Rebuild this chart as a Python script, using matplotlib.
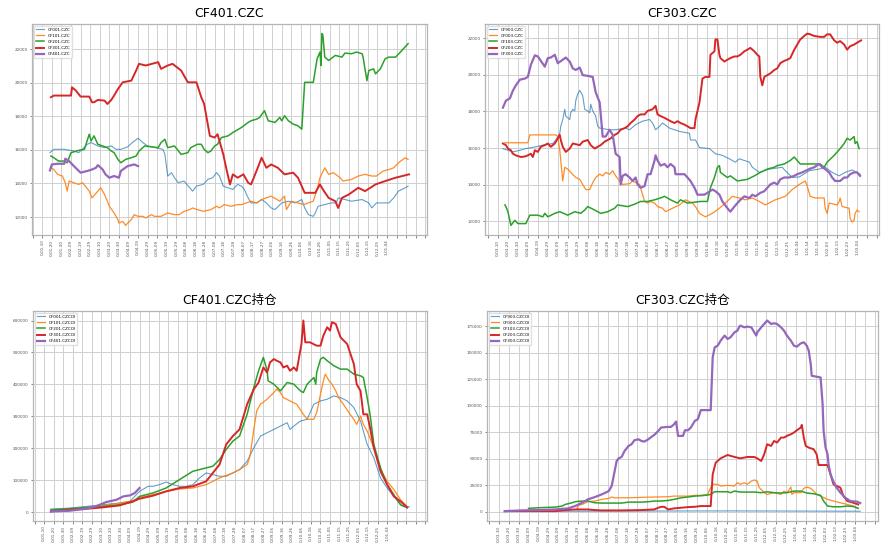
import matplotlib
matplotlib.use('Agg')
import matplotlib.pyplot as plt
import numpy as np
import pandas as pd

plt.rcParams['font.family'] = ['DejaVu Sans', 'Noto Sans CJK SC']

# x values are days after the first labelled date of each panel
left_labels = [f'{d.year - 2000}-{d:%m-%d}' for d in pd.date_range('2000-01-10', periods=37, freq='10D')]
right_labels = [f'{d.year - 2003}-{d:%m-%d}' for d in pd.date_range('2003-03-10', periods=37, freq='10D')]

left_px_names = ['CF001.CZC', 'CF101.CZC', 'CF201.CZC', 'CF301.CZC', 'CF401.CZC']
right_px_names = ['CF903.CZC', 'CF003.CZC', 'CF103.CZC', 'CF203.CZC', 'CF303.CZC']
left_oi_names = [n + 'OI' for n in left_px_names]
right_oi_names = [n + 'OI' for n in right_px_names]

# ---- CF401 price panel ----
cf001_px = [(8, 15830), (12, 16030), (23, 16030), (33, 15930), (38, 15830), (47, 16330), (51, 16430),
            (58, 16230), (65, 16130), (72, 16230), (77, 16030), (82, 16030), (89, 16170), (94, 16430),
            (100, 16690), (105, 16430), (110, 16230), (115, 16170), (126, 16030), (128, 15730),
            (131, 14440), (135, 14640), (138, 14340), (142, 14040), (148, 14140), (154, 13740),
            (157, 13540), (161, 13840), (168, 13940), (173, 14240), (178, 14340), (182, 14640),
            (185, 14440), (189, 13840), (194, 13740), (199, 13640), (204, 13940), (208, 13840),
            (211, 13640), (215, 13140), (218, 12840), (224, 12840), (229, 13040), (234, 12840),
            (239, 12540), (243, 12440), (250, 12840), (257, 12940), (264, 12840), (271, 13040),
            (274, 12540), (278, 12140), (283, 12040), (285, 12240), (288, 12640), (295, 12740),
            (302, 12840), (307, 12840), (309, 13140), (316, 13040), (323, 12940), (334, 13040),
            (341, 12840), (344, 12540), (349, 12840), (362, 12840), (367, 13140), (372, 13540),
            (379, 13740), (382, 13840)]
cf101_px = [(9, 14930), (12, 14830), (16, 14540), (21, 14440), (24, 14040), (26, 13540), (28, 14140),
            (33, 14040), (38, 13940), (42, 14040), (45, 13840), (49, 13540), (52, 13140), (58, 13540),
            (61, 13740), (65, 13340), (68, 12940), (70, 12640), (75, 12240), (79, 11840), (80, 11640),
            (84, 11740), (87, 11500), (91, 11740), (93, 11840), (96, 12140), (100, 12040), (105, 12040),
            (108, 11940), (114, 12140), (117, 12040), (124, 12040), (131, 12240), (138, 12140),
            (143, 12140), (148, 12340), (154, 12440), (157, 12540), (162, 12440), (168, 12340),
            (176, 12440), (182, 12640), (185, 12540), (190, 12740), (197, 12640), (204, 12740),
            (208, 12740), (218, 12940), (224, 12840), (229, 13040), (234, 13140), (239, 13240),
            (245, 13040), (248, 12940), (253, 13240), (255, 12440), (260, 12940), (267, 12840),
            (273, 12740), (278, 12840), (283, 12940), (287, 13640), (290, 14340), (295, 14930),
            (299, 14540), (304, 14640), (311, 14340), (314, 14140), (323, 14240), (330, 14440),
            (337, 14540), (344, 14440), (349, 14440), (356, 14740), (362, 14830), (367, 14930),
            (372, 15230), (379, 15530), (382, 15430)]
cf201_px = [(9, 15630), (12, 15530), (17, 15330), (23, 15330), (26, 15230), (30, 15830), (38, 15970),
            (44, 16030), (49, 16930), (51, 16530), (54, 16830), (58, 16330), (63, 16230), (68, 16130),
            (72, 15930), (75, 15830), (79, 15430), (82, 15230), (87, 15430), (93, 15530), (98, 15630),
            (101, 15930), (107, 16230), (115, 16170), (121, 16130), (124, 16430), (128, 16630),
            (131, 16130), (138, 16230), (145, 15730), (152, 15830), (155, 16130), (162, 16330),
            (166, 16330), (169, 16030), (173, 15830), (176, 15930), (180, 16230), (183, 16330),
            (187, 16730), (194, 16830), (199, 17030), (208, 17330), (215, 17630), (218, 17730),
            (224, 17830), (227, 17930), (232, 18330), (236, 17730), (243, 17630), (248, 17930),
            (250, 17730), (253, 18030), (257, 17730), (262, 17530), (267, 17430), (271, 17230),
            (274, 20020), (283, 20020), (287, 21420), (290, 21820), (291, 21020), (292, 22920),
            (293, 22820), (295, 21520), (299, 21320), (306, 21620), (313, 21520), (316, 21760),
            (323, 21720), (328, 21820), (334, 21720), (335, 21520), (337, 20820), (339, 20120),
            (341, 20720), (346, 20820), (348, 20520), (353, 20820), (358, 21420), (362, 21520),
            (369, 21520), (374, 21820), (382, 22320)]
cf301_px = [(9, 19130), (12, 19230), (30, 19230), (31, 19720), (35, 19530), (40, 19170), (49, 19170),
            (52, 18830), (54, 18830), (58, 18970), (65, 18930), (68, 18730), (72, 18970), (75, 19230),
            (79, 19620), (84, 20020), (93, 20120), (98, 20720), (101, 21120), (108, 21020), (121, 21220),
            (124, 20820), (131, 21020), (136, 21120), (145, 20720), (148, 20420), (152, 20020),
            (161, 20020), (166, 19130), (169, 18730), (175, 16830), (180, 16730), (183, 16930),
            (189, 15730), (192, 14930), (196, 13940), (199, 14540), (204, 14340), (210, 14540),
            (215, 14040), (218, 13940), (225, 14930), (229, 15530), (234, 14930), (239, 15130),
            (246, 14930), (253, 14540), (262, 14640), (267, 14340), (274, 13440), (285, 13440),
            (290, 13940), (293, 13640), (299, 13140), (306, 12940), (309, 12540), (313, 13140),
            (320, 13340), (330, 13740), (337, 13540), (348, 13940), (358, 14140), (369, 14340),
            (383, 14540)]
cf401_px = [(8, 14770), (10, 15130), (16, 15170), (23, 15170), (24, 15470), (28, 15330), (33, 15030),
            (40, 14640), (47, 14740), (52, 14830), (56, 14930), (58, 15090), (63, 14830), (66, 14540),
            (70, 14340), (75, 14440), (80, 14340), (82, 14740), (89, 15030), (96, 15130), (100, 15030)]

# ---- CF303 price panel ----
cf903_px = [(5, 15970), (15, 15790), (22, 15880), (28, 15970), (38, 16070), (45, 16160), (52, 16220),
            (55, 16250), (58, 16440), (62, 16810), (63, 17190), (65, 17560), (67, 18120), (68, 17750),
            (72, 17560), (73, 17930), (75, 18120), (77, 18030), (78, 18590), (80, 18960), (82, 19150),
            (85, 18870), (87, 18120), (90, 18030), (92, 17930), (93, 18400), (95, 18030), (98, 17750),
            (100, 17190), (102, 17090), (112, 17000), (118, 17000), (128, 17090), (132, 17000),
            (138, 17280), (145, 17470), (152, 17560), (155, 17370), (158, 17000), (162, 17190),
            (165, 17370), (172, 17090), (182, 16910), (192, 16810), (193, 16440), (198, 16440),
            (202, 16030), (212, 15970), (218, 15690), (225, 15600), (232, 15410), (238, 15230),
            (242, 15410), (252, 15230), (255, 14950), (262, 14670), (272, 14850), (285, 14950),
            (288, 14760), (295, 14390), (302, 14420), (312, 14760), (322, 14850), (328, 14950),
            (335, 14670), (342, 14480), (348, 14670), (355, 14800), (363, 14570)]
cf003_px = [(7, 16290), (30, 16290), (32, 16720), (58, 16720), (60, 16630), (62, 15880), (63, 15320),
            (65, 14200), (67, 14950), (70, 14850), (73, 14670), (78, 14390), (82, 14290), (85, 14010),
            (88, 13730), (92, 13730), (95, 14110), (98, 14390), (102, 14570), (105, 14480), (108, 14670),
            (112, 14570), (115, 14760), (118, 14480), (122, 14200), (125, 14010), (132, 14050),
            (135, 14200), (138, 14110), (142, 14010), (143, 13830), (147, 13080), (150, 12990),
            (153, 13080), (157, 12990), (160, 12800), (165, 12710), (168, 12520), (175, 12710),
            (182, 12890), (188, 13170), (195, 12990), (198, 12800), (202, 12430), (205, 12330),
            (208, 12240), (215, 12430), (222, 12710), (228, 12990), (235, 13360), (242, 13270),
            (248, 13170), (255, 13270), (262, 13080), (268, 12890), (278, 13170), (288, 13360),
            (295, 13730), (302, 14010), (308, 14200), (310, 13920), (313, 13360), (318, 13270),
            (327, 13270), (328, 12710), (330, 12430), (332, 12990), (340, 12890), (342, 13080),
            (343, 13270), (345, 12800), (352, 12710), (353, 12150), (355, 11960), (357, 12050),
            (358, 12430), (360, 12610), (362, 12520)]
cf103_px = [(7, 12890), (8, 12800), (10, 12520), (13, 11770), (17, 12050), (20, 11870), (28, 11870),
            (32, 12330), (40, 12330), (45, 12240), (47, 12430), (50, 12240), (57, 12430), (62, 12520),
            (70, 12330), (77, 12520), (83, 12430), (87, 12610), (90, 12800), (97, 12610), (103, 12430),
            (110, 12520), (117, 12710), (120, 12890), (130, 12800), (137, 12930), (143, 13080),
            (150, 13080), (157, 13170), (163, 13270), (167, 13360), (173, 13170), (180, 12990),
            (183, 13170), (190, 12990), (203, 13080), (210, 13080), (213, 13830), (217, 14390),
            (220, 14950), (222, 15040), (223, 14670), (230, 14390), (233, 14480), (240, 14200),
            (250, 14290), (257, 14480), (263, 14670), (270, 14850), (277, 14950), (280, 15040),
            (287, 15130), (293, 15320), (297, 15510), (303, 15130), (310, 15130), (317, 15130),
            (323, 15130), (327, 14950), (330, 15230), (337, 15600), (343, 15970), (347, 16250),
            (350, 16530), (353, 16440), (357, 16630), (358, 16250), (360, 16350), (362, 15970)]
cf203_px = [(5, 16250), (8, 16160), (10, 15970), (13, 15880), (15, 15690), (18, 15600), (23, 15510),
            (27, 15540), (30, 15600), (33, 15690), (35, 15510), (37, 15880), (40, 15790), (43, 16070),
            (47, 16160), (50, 16250), (53, 16070), (57, 16250), (60, 16530), (62, 16720), (63, 16440),
            (65, 16070), (68, 15790), (72, 15970), (75, 16250), (82, 16160), (85, 16350), (90, 16440),
            (93, 16160), (97, 15970), (100, 16070), (103, 16160), (107, 16350), (110, 16440),
            (113, 16530), (117, 16720), (120, 16810), (123, 17000), (127, 17090), (130, 17190),
            (133, 17370), (137, 17560), (140, 17750), (143, 17840), (147, 17840), (150, 18030),
            (155, 18120), (158, 18310), (160, 17840), (163, 17750), (167, 17650), (170, 17560),
            (173, 17470), (177, 17370), (180, 17470), (183, 17370), (187, 17280), (190, 17190),
            (193, 17090), (197, 17090), (198, 17560), (202, 18490), (205, 19800), (208, 19890),
            (212, 19890), (213, 21100), (217, 21290), (218, 21940), (220, 21940), (222, 21100),
            (223, 20920), (227, 20730), (230, 20830), (233, 20920), (237, 21010), (240, 21010),
            (243, 21100), (247, 21290), (250, 21380), (253, 21480), (257, 21290), (260, 21100),
            (262, 21010), (263, 19890), (265, 19430), (267, 19890), (270, 19990), (273, 20080),
            (277, 20270), (280, 20360), (283, 20640), (287, 20770), (290, 20830), (293, 20920),
            (297, 21380), (300, 21660), (303, 21940), (307, 22130), (310, 22260), (313, 22220),
            (317, 22130), (323, 22080), (327, 22080), (330, 22220), (333, 22220), (337, 21890),
            (340, 21760), (343, 21850), (347, 21660), (350, 21380), (353, 21570), (357, 21660),
            (360, 21760), (364, 21890)]
cf303_px = [(5, 18210), (8, 18590), (12, 18720), (15, 19140), (18, 19430), (22, 19740), (27, 19800),
            (30, 19890), (33, 20550), (37, 21070), (40, 21010), (43, 20770), (47, 20450), (50, 20920),
            (53, 20950), (57, 21100), (60, 20640), (65, 20830), (68, 20950), (72, 20730), (75, 20360),
            (78, 20270), (82, 20400), (85, 19990), (90, 19950), (95, 19890), (98, 19050), (102, 18490),
            (105, 16630), (108, 16630), (112, 17000), (115, 16720), (118, 15690), (122, 15510),
            (123, 14010), (125, 14480), (128, 14570), (132, 14390), (135, 14200), (138, 14390),
            (140, 14010), (143, 13830), (147, 13920), (150, 14570), (153, 14570), (157, 15320),
            (158, 15600), (160, 15320), (163, 15040), (167, 15130), (170, 14950), (173, 15130),
            (177, 14950), (178, 14570), (182, 14570), (187, 14570), (190, 14390), (193, 14200),
            (197, 13830), (200, 13450), (207, 13450), (210, 13550), (215, 13730), (218, 13640),
            (222, 13450), (225, 13080), (230, 12710), (233, 12520), (237, 12800), (240, 12990),
            (243, 13170), (247, 13360), (252, 13270), (255, 13450), (258, 13360), (263, 13550),
            (267, 13640), (270, 13830), (273, 14010), (277, 14110), (280, 14010), (283, 14290),
            (287, 14390), (292, 14390), (297, 14480), (300, 14570), (305, 14670), (312, 14850),
            (317, 14950), (322, 15130), (325, 14950), (328, 14850), (332, 14670), (335, 14390),
            (338, 14200), (343, 14200), (347, 14390), (350, 14390), (353, 14570), (357, 14670),
            (360, 14670), (363, 14480)]

# ---- CF401 open interest panel ----
cf001_oi = [(7, 9400), (26, 12600), (44, 17800), (61, 23100), (79, 28300), (90, 33600), (95, 49300),
            (100, 65000), (109, 80800), (114, 80800), (121, 86000), (128, 94400), (135, 86000),
            (142, 80800), (149, 80800), (156, 86000), (163, 107000), (170, 122700), (177, 117500),
            (184, 112200), (191, 112200), (198, 122700), (205, 133200), (213, 159400), (220, 201400),
            (227, 238100), (234, 248600), (241, 259100), (248, 269600), (255, 280100), (258, 259100),
            (262, 269600), (269, 285300), (276, 290600), (283, 337800), (290, 348300), (297, 353500),
            (304, 364000), (311, 358800), (318, 348300), (325, 327300), (332, 285300), (339, 211900),
            (346, 169900), (353, 107000), (360, 75500), (367, 49300), (374, 23100), (381, 12600),
            (383, 17800)]
cf101_oi = [(7, 2100), (26, 5200), (44, 12600), (61, 19900), (79, 28300), (93, 35700), (100, 46200),
            (114, 54500), (128, 65000), (142, 72400), (156, 75500), (170, 86000), (184, 107000),
            (198, 122700), (205, 133200), (213, 149000), (216, 175200), (220, 259100), (223, 316800),
            (227, 337800), (234, 353500), (241, 374500), (244, 385000), (248, 374500), (251, 358800),
            (258, 348300), (265, 337800), (272, 306300), (276, 290600), (283, 290600), (286, 311600),
            (290, 369200), (293, 411200), (295, 432200), (299, 411200), (302, 400700), (306, 379700),
            (309, 358800), (314, 337800), (321, 306300), (325, 290600), (328, 274800), (332, 301100),
            (335, 274800), (339, 253800), (346, 201400), (353, 133200), (360, 96500), (367, 70300),
            (374, 38800), (381, 17800)]
cf201_oi = [(7, 7300), (26, 10500), (44, 14700), (61, 17800), (79, 23100), (93, 31500), (100, 49300),
            (114, 59800), (128, 75500), (142, 101800), (156, 128000), (170, 138500), (177, 143700),
            (184, 164700), (191, 196200), (198, 222400), (205, 238100), (213, 306300), (220, 390200),
            (225, 442700), (230, 484700), (234, 442700), (235, 411200), (241, 400700), (248, 379700),
            (255, 406000), (262, 400700), (269, 379700), (272, 374500), (276, 400700), (283, 421700),
            (285, 400700), (286, 437400), (288, 458400), (290, 479400), (293, 484700), (297, 474200),
            (304, 458400), (311, 447900), (318, 447900), (325, 432200), (332, 426900), (335, 421700),
            (339, 358800), (342, 306300), (346, 211900), (349, 180400), (353, 138500), (360, 86000),
            (367, 54500), (374, 23100), (378, 17800)]
cf301_oi = [(7, 2100), (26, 7300), (44, 10500), (61, 14700), (79, 21000), (93, 33600), (100, 42000),
            (114, 51400), (128, 65000), (142, 75500), (156, 80800), (170, 96500), (184, 149000),
            (191, 211900), (198, 238100), (205, 259100), (213, 337800), (220, 385000), (225, 405900),
            (230, 453200), (234, 437400), (237, 468900), (241, 479400), (244, 474200), (248, 468900),
            (251, 453200), (255, 458400), (258, 442700), (262, 453200), (265, 442700), (270, 526600),
            (272, 600000), (274, 531800), (279, 531800), (286, 521300), (290, 521300), (293, 552800),
            (297, 579000), (300, 568500), (302, 594800), (306, 589500), (311, 547600), (318, 526600),
            (325, 463700), (328, 400700), (332, 379700), (335, 306300), (339, 306300), (342, 264300),
            (346, 201400), (353, 128000), (360, 86000), (367, 49300), (374, 33600), (381, 14700)]
cf401_oi = [(7, 2100), (26, 4200), (44, 10500), (54, 17800), (65, 31500), (76, 38800), (83, 49300),
            (90, 52400), (95, 59800), (100, 75500)]

# ---- CF303 open interest panel ----
cf903_oi = [(6, 300), (40, 400), (80, 500), (120, 600), (160, 700), (200, 800), (240, 800), (280, 700),
            (320, 600), (365, 500)]
cf003_oi = [(79, 3200), (80, 6000), (84, 6900), (90, 9500), (97, 10100), (104, 11700), (111, 12600),
            (114, 13900), (117, 13200), (131, 13200), (144, 13600), (157, 13900), (171, 14200),
            (177, 14800), (191, 14800), (198, 15500), (204, 15500), (211, 16400), (213, 21100),
            (216, 25900), (221, 25900), (224, 24300), (231, 24900), (238, 24300), (241, 27400),
            (244, 25900), (248, 27400), (251, 25900), (255, 29000), (258, 30000), (261, 29000),
            (263, 22700), (265, 21100), (268, 18000), (271, 16400), (278, 18000), (285, 16400),
            (288, 19500), (291, 18000), (295, 23300), (296, 16400), (298, 18000), (305, 18000),
            (308, 22100), (311, 23300), (315, 22100), (318, 19500), (321, 16400), (325, 14800),
            (332, 11700), (338, 10100), (345, 8500), (352, 6900), (358, 5400), (362, 3800)]
cf103_oi = [(30, 3200), (40, 3800), (57, 4400), (64, 5400), (67, 6900), (70, 7600), (74, 8500),
            (77, 9500), (84, 10100), (90, 10100), (97, 8500), (104, 8200), (124, 8200), (131, 9100),
            (144, 9100), (151, 9500), (157, 10100), (164, 10100), (171, 10700), (177, 11700),
            (184, 13200), (191, 13900), (198, 14800), (204, 15100), (211, 15800), (214, 16400),
            (218, 18900), (231, 18900), (234, 18000), (238, 19500), (244, 18600), (258, 18600),
            (265, 18000), (271, 18900), (278, 18000), (285, 17700), (291, 18000), (298, 19500),
            (305, 19500), (311, 17700), (318, 17000), (325, 15500), (328, 10100), (332, 5400),
            (338, 4700), (345, 4700), (352, 5400), (358, 5000), (363, 3200)]
cf203_oi = [(6, 600), (57, 600), (67, 1600), (77, 2200), (90, 2200), (97, 1600), (104, 1300), (124, 1300),
            (144, 1600), (157, 2200), (161, 3800), (164, 4700), (167, 4700), (171, 2200), (177, 3200),
            (191, 4400), (198, 4700), (204, 5400), (214, 5400), (216, 35300), (219, 46300), (224, 50400),
            (231, 53600), (238, 51700), (244, 50400), (251, 51700), (258, 51700), (261, 50400),
            (265, 47900), (268, 54200), (271, 63700), (275, 62100), (278, 66800), (281, 65300),
            (285, 70000), (288, 70000), (291, 71600), (295, 73100), (298, 74700), (301, 76900),
            (305, 79500), (306, 82000), (308, 70000), (310, 62100), (313, 60500), (318, 59000),
            (321, 54200), (323, 44100), (332, 44100), (335, 35300), (338, 25900), (345, 22700),
            (348, 14800), (352, 10100), (358, 8500), (363, 6900)]
cf303_oi = [(6, 600), (23, 1300), (40, 1600), (57, 2200), (70, 3200), (77, 5400), (84, 8500), (90, 11700),
            (97, 13900), (104, 16400), (111, 19500), (114, 24300), (117, 38500), (119, 47900),
            (121, 50400), (124, 51700), (127, 57400), (131, 62100), (134, 63700), (137, 67500),
            (141, 68400), (144, 66800), (147, 66200), (151, 68400), (154, 70600), (157, 72500),
            (161, 76300), (164, 79500), (171, 80100), (174, 80100), (177, 82600), (179, 85100),
            (181, 71600), (186, 71600), (188, 76900), (191, 76900), (194, 79500), (198, 85800),
            (201, 87300), (204, 95900), (214, 95900), (216, 145700), (218, 155100), (221, 156700),
            (224, 161400), (228, 166200), (231, 163000), (234, 164600), (238, 169300), (241, 170900),
            (243, 174700), (244, 175600), (248, 174000), (251, 174700), (255, 174000), (258, 169300),
            (260, 166200), (261, 169300), (265, 174000), (268, 177200), (271, 180400), (275, 177200),
            (278, 177800), (281, 177200), (285, 174000), (288, 170900), (291, 166200), (295, 161400),
            (298, 156700), (301, 155800), (305, 158900), (308, 159900), (311, 156700), (313, 152000),
            (315, 139400), (316, 128300), (321, 127400), (325, 126700), (327, 101500), (328, 76300),
            (330, 60500), (332, 54200), (333, 44800), (335, 35300), (337, 30600), (340, 24300),
            (345, 18000), (350, 13200), (355, 10100), (362, 9500), (365, 8200)]

COLORS = ['#1f77b4', '#ff7f0e', '#2ca02c', '#d62728', '#9467bd']
WIDTHS = [0.8, 0.9, 1.1, 1.4, 1.6]
ALPHAS = [0.7, 0.9, 1.0, 1.0, 1.0]


def draw(ax, title, names, series, labels):
    for i, (name, pts) in enumerate(zip(names, series)):
        x, y = zip(*pts)
        ax.plot(x, y, color=COLORS[i], lw=WIDTHS[i], alpha=ALPHAS[i], label=name)
    lo, hi = ax.get_xlim()
    ticks = np.arange(-10, hi, 10)
    ax.set_xticks(ticks)
    ax.set_xticklabels([labels[int(t) // 10] if 0 <= t <= 360 else '' for t in ticks], rotation=90)
    ax.set_xlim(lo, hi)
    ax.grid(True, color='#d0d0d0', lw=0.7)
    ax.set_axisbelow(True)
    ax.tick_params(labelsize=3, length=1.8, width=0.5, colors='#555555', pad=1.5)
    for s in ax.spines.values():
        s.set_color('#b5b5b5')
        s.set_linewidth(0.9)
    ax.legend(loc='upper left', fontsize=3, framealpha=0.9, edgecolor='#dddddd')
    ax.set_title(title, fontsize=9, pad=5)


fig = plt.figure(figsize=(8.96, 5.55), dpi=100)
ax1 = fig.add_axes([32 / 896, 1 - 235 / 555, 395 / 896, 211 / 555])
ax2 = fig.add_axes([485 / 896, 1 - 235 / 555, 394 / 896, 211 / 555])
ax3 = fig.add_axes([33 / 896, 1 - 521 / 555, 394 / 896, 210 / 555])
ax4 = fig.add_axes([487 / 896, 1 - 521 / 555, 391 / 896, 210 / 555])

draw(ax1, 'CF401.CZC', left_px_names, [cf001_px, cf101_px, cf201_px, cf301_px, cf401_px], left_labels)
draw(ax2, 'CF303.CZC', right_px_names, [cf903_px, cf003_px, cf103_px, cf203_px, cf303_px], right_labels)
draw(ax3, 'CF401.CZC持仓', left_oi_names, [cf001_oi, cf101_oi, cf201_oi, cf301_oi, cf401_oi], left_labels)
draw(ax4, 'CF303.CZC持仓', right_oi_names, [cf903_oi, cf003_oi, cf103_oi, cf203_oi, cf303_oi], right_labels)

fig.savefig('out.png', dpi=100)
